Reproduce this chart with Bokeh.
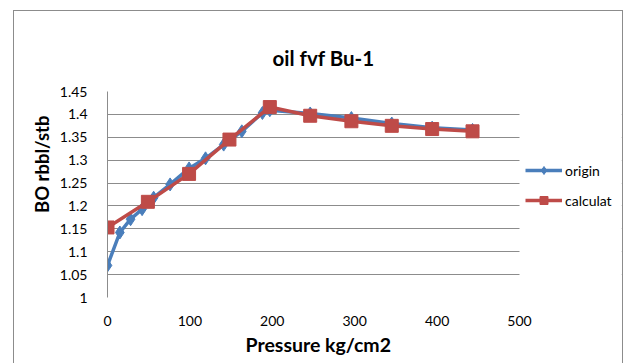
from bokeh.plotting import figure
from bokeh.layouts import column
from bokeh.models import (Range1d, FixedTicker, NumeralTickFormatter, Legend, LegendItem, Title,
                          BoxAnnotation)
from bokeh.embed import file_html
from bokeh.resources import INLINE

# data
origin_p = [0, 15, 28, 42, 56, 76, 99, 119, 141, 163, 188, 197, 246, 296, 345, 394, 443]
origin_bo = [1.07, 1.142, 1.171, 1.193, 1.218, 1.247, 1.282, 1.304, 1.334, 1.363, 1.403,
             1.409, 1.402, 1.392, 1.380, 1.371, 1.366]
calc_p = [0, 49, 99, 148, 197, 246, 296, 345, 394, 443]
calc_bo = [1.153, 1.209, 1.270, 1.345, 1.416, 1.397, 1.385, 1.375, 1.368, 1.363]
x_ticks = [0, 100, 200, 300, 400, 500]
y_ticks = [1.0, 1.05, 1.1, 1.15, 1.2, 1.25, 1.3, 1.35, 1.4, 1.45]
x_max = 500

FONT = "Lato"
GRID = "#8c8c8c"
BLUE = "#4a7ebb"
RED = "#be4b48"

# frame extends to the right so the legend can sit inside it; the axis itself ends at 500
p = figure(width=626, height=363, output_backend="svg", toolbar_location=None,
           x_range=Range1d(0, 623.8), y_range=Range1d(1.0, 1.45),
           min_border_left=107, min_border_right=5, min_border_top=91, min_border_bottom=66)
p.border_fill_color = None
p.background_fill_color = None

p.title.text = "oil fvf Bu-1"
p.title.align = "left"
p.title.offset = 165
p.title.text_font = FONT
p.title.text_font_size = "20.5px"
p.title.text_font_style = "bold"
p.title.text_color = "#000000"
p.title.standoff = 43

p.outline_line_color = None
p.xgrid.grid_line_color = None
p.ygrid.grid_line_color = GRID
p.ygrid.grid_line_width = 1

for ax in (p.xaxis[0], p.yaxis[0]):
    ax.axis_line_color = GRID
    ax.major_tick_line_color = None
    ax.minor_tick_line_color = None
    ax.major_label_text_font = FONT
    ax.major_label_text_font_size = "14px"
    ax.major_label_text_color = "#000000"
p.xaxis.axis_line_color = None

p.xaxis.ticker = FixedTicker(ticks=x_ticks)
p.yaxis.ticker = FixedTicker(ticks=y_ticks)
p.yaxis.formatter = NumeralTickFormatter(format="0.[00]")
p.yaxis.major_label_standoff = 14
p.xaxis.major_label_standoff = 12

# x axis title, centred under the 0-500 axis like the reference
xtitle = Title(text="Pressure kg/cm2", align="left", offset=138, standoff=4,
               text_font=FONT, text_font_size="19.5px", text_font_style="bold",
               text_color="#000000")
p.add_layout(xtitle, "below")

ytitle = Title(text="BO rbbl/stb", align="right", offset=24, standoff=8,
               text_font=FONT, text_font_size="18.5px", text_font_style="bold",
               text_color="#000000")
p.add_layout(ytitle, "left")

l1 = p.line(origin_p, origin_bo, line_color=BLUE, line_width=3.5)
m1 = p.scatter(origin_p, origin_bo, marker="diamond", size=13, fill_color=BLUE, line_color=BLUE)
l2 = p.line(calc_p, calc_bo, line_color=RED, line_width=3.5)
m2 = p.scatter(calc_p, calc_bo, marker="square", size=13, fill_color=RED, line_color=RED)

# hide the gridlines beyond the end of the x axis (legend area)
p.add_layout(BoxAnnotation(left=x_max, fill_color="white", fill_alpha=1.0, line_color=None))

legend = Legend(items=[LegendItem(label="origin", renderers=[l1, m1]),
                       LegendItem(label="calculat", renderers=[l2, m2])],
                location=(418, 87), orientation="vertical",
                glyph_width=37, glyph_height=20, label_standoff=3, spacing=10,
                padding=0, margin=0, border_line_color=None, background_fill_alpha=0,
                label_text_font=FONT, label_text_font_size="14px", label_text_color="#000000")
p.add_layout(legend, "center")

# outer chart border drawn behind the (transparent) canvas
page = column(p, styles={
    "background-color": "white",
    "background-image": ("linear-gradient(#8c8c8c,#8c8c8c), linear-gradient(#8c8c8c,#8c8c8c), "
                         "linear-gradient(#8c8c8c,#8c8c8c)"),
    "background-position": "13px 10px, 13px 10px, 622px 10px",
    "background-size": "1px 360px, 610px 1px, 1px 360px",
    "background-repeat": "no-repeat",
})

open("out.html", "w").write(file_html(page, INLINE))
